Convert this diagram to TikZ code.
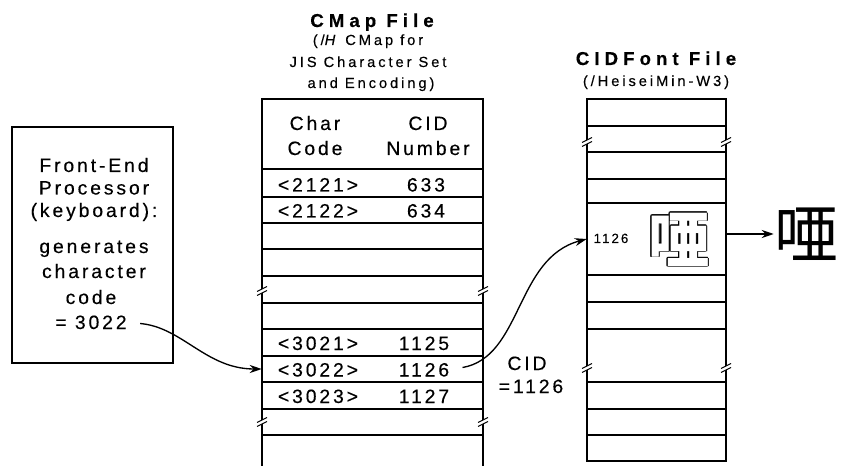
\documentclass[tikz,border=0pt]{standalone}
\usepackage{fontspec}
\setmainfont{Liberation Sans}[LetterSpace=15, FakeBold=0.3]
\newfontfamily\cjkfont{Noto Sans CJK JP}
\usepackage{contour}
\contourlength{0.5pt}
\usetikzlibrary{arrows.meta}
\tikzstyle{Label}=[inner sep=0pt, anchor=base, font=\fontsize{14.5}{17}\selectfont]
\tikzstyle{Small}=[inner sep=0pt, anchor=base, font=\fontsize{10}{12}\selectfont]
\tikzstyle{Title}=[inner sep=0pt, anchor=base, font=\fontsize{14}{17}\selectfont\bfseries\addfontfeatures{LetterSpace=27}]
\tikzstyle{Sub}=[inner sep=0pt, anchor=base, font=\fontsize{11}{16}\selectfont\addfontfeatures{LetterSpace=20}]
\tikzstyle{Box}=[draw=black, line width=1.2pt, inner sep=0pt, minimum width=120.75pt, minimum height=177pt]
\tikzstyle{Row}=[inner sep=0pt, minimum height=20pt]
\tikzstyle{Glyph}=[inner sep=0pt]
\tikzstyle{Frame}=[line width=1.5pt]
\tikzstyle{Rule}=[line width=0.8pt]
\tikzstyle{arrow}=[line width=1pt, shorten <=10pt]
\newcommand{\tablebreak}[2]{%
	\fill [white] (#1-3,#2+1.5) -- (#1+3,#2-1.5) -- (#1+3,#2+2.5) -- (#1-3,#2+5.5) -- cycle;
	\draw [style=Rule] (#1-5,#2+2.5) -- (#1+5,#2-2.5) (#1-5,#2+6.5) -- (#1+5,#2+1.5);}
\pgfdeclarelayer{nodelayer}
\pgfdeclarelayer{edgelayer}
\pgfsetlayers{main, nodelayer, edgelayer}
\begin{document}
\begin{tikzpicture}[x=0.75pt, y=-0.75pt, >={Stealth[length=9pt, width=6pt]}]
	\useasboundingbox (0,0) rectangle (841,466);

	% tables
	\draw [style=Frame] (262,466) -- (262,99) -- (483,99) -- (483,466);
	\draw [style=Rule] (262,169) -- (483,169) (262,197) -- (483,197) (262,223) -- (483,223)
		(262,249) -- (483,249) (262,276) -- (483,276) (262,303) -- (483,303)
		(262,329) -- (483,329) (262,356) -- (483,356) (262,382) -- (483,382)
		(262,409) -- (483,409) (262,435) -- (483,435);
	\draw [style=Frame] (587,99) rectangle (726,461);
	\draw [style=Rule] (587,126) -- (726,126) (587,152) -- (726,152) (587,179) -- (726,179)
		(587,302) -- (726,302) (587,329) -- (726,329) (587,382) -- (726,382)
		(587,409) -- (726,409) (587,435) -- (726,435);
	\draw [line width=1.2pt] (587,203) -- (726,203) (587,275) -- (726,275);
	\tablebreak{262}{289}
	\tablebreak{483}{289}
	\tablebreak{262}{420}
	\tablebreak{483}{420}
	\tablebreak{587}{140}
	\tablebreak{726}{140}
	\tablebreak{587}{366}
	\tablebreak{726}{366}

	\begin{pgfonlayer}{nodelayer}
		% titles
		\node [style=Title] (cmaptitle) at (372,27) {CMap File};
		\node [style=Sub] (cmapsub1) at (368,45) {(/\textit{H} CMap for};
		\node [style=Sub] (cmapsub2) at (368,67) {JIS Character Set};
		\node [style=Sub] (cmapsub3) at (371,88) {and Encoding)};
		\node [style=Title] (cidtitle) at (656,65) {CIDFont File};
		\node [style=Sub] (cidsub) at (656,86) {(/HeiseiMin-W3)};

		% front-end processor
		\node [style=Box] (fep) at (92.5,245) {};
		\node [style=Label] (fep1) at (94,172) {Front-End};
		\node [style=Label] (fep2) at (94,194.5) {Processor};
		\node [style=Label] (fep3) at (94,217) {(keyboard):};
		\node [style=Label] (fep4) at (94,253) {generates};
		\node [style=Label] (fep5) at (94,278) {character};
		\node [style=Label] (fep6) at (91,304) {code};
		\node [style=Label] (keycode) at (91,329) {= 3022};

		% CMap entries
		\node [style=Label] (charhead1) at (315,130) {Char};
		\node [style=Label] (charhead2) at (315,155) {Code};
		\node [style=Label] (cidhead1) at (428,130) {CID};
		\node [style=Label] (cidhead2) at (428,155) {Number};
		\node [style=Label] (code2121) at (318,191.5) {<2121>};
		\node [style=Label] (cid2121) at (426,191.5) {633};
		\node [style=Label] (code2122) at (318,217.5) {<2122>};
		\node [style=Label] (cid2122) at (426,217.5) {634};
		\node [style=Label] (code3021) at (318,350) {<3021>};
		\node [style=Label] (cid3021) at (424,350) {1125};
		\node [style=Label] (code3022) at (318,376.5) {<3022>};
		\node [style=Label] (cid3022) at (424,376.5) {1126};
		\node [style=Label] (code3023) at (318,403) {<3023>};
		\node [style=Label] (cid3023) at (424,403) {1127};
		\node [style=Row, minimum width=165.75pt] (row3022) at (372.5,369) {};

		% CIDFont entry
		\node [style=Row, minimum width=104.25pt, minimum height=54pt] (row1126) at (656.5,239) {};
		\node [style=Small] (cidnum) at (611,243) {1126};
		\node [style=Glyph, font=\cjkfont\bfseries\fontsize{46}{46}\selectfont] (outline) at (679,240) {\textcolor{white}{\contour{black}{唖}}};
		\node [style=Glyph, font=\cjkfont\fontsize{48}{48}\selectfont] (glyph) at (806,234) {唖};
		\node [style=Label] (cidval1) at (527,370) {CID};
		\node [style=Label] (cidval2) at (531,393) {=1126};
	\end{pgfonlayer}

	\begin{pgfonlayer}{edgelayer}
		\draw [->, style=arrow] (keycode.east) to [out=-5, in=180] (row3022.west);
		\draw [->, style=arrow] (cid3022.east) to [out=10, in=195] (row1126.west);
		\draw [->, style=arrow, shorten <=0pt] (row1126.east |- glyph) -- (glyph.west);
	\end{pgfonlayer}
\end{tikzpicture}
\end{document}
